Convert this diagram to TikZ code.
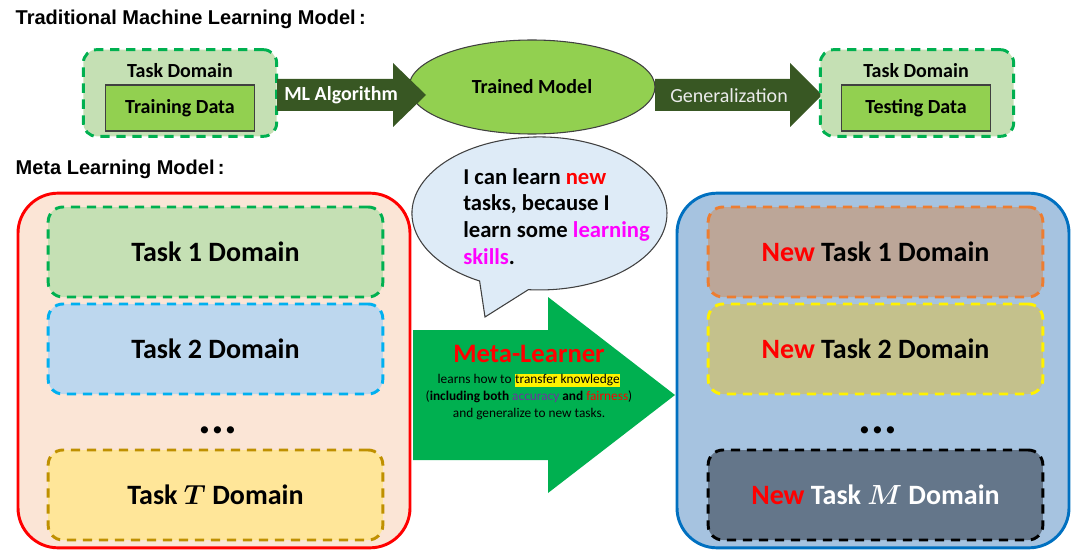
\documentclass[tikz,border=0pt]{standalone}
\usepackage{fontspec}
\usepackage{amsmath}
\setmainfont{Carlito}
\newfontfamily\arialfont{Liberation Sans}
\usetikzlibrary{calc,shapes.geometric}

\definecolor{leafgreen}{HTML}{C5E0B4}
\definecolor{taskgreen}{HTML}{00B050}
\definecolor{limegreen}{HTML}{92D050}
\definecolor{darkarrow}{HTML}{385723}
\definecolor{darkline}{HTML}{404040}
\definecolor{skyfill}{HTML}{BDD7EE}
\definecolor{skydash}{HTML}{00B0F0}
\definecolor{sandfill}{HTML}{FFE699}
\definecolor{sanddash}{HTML}{BF9000}
\definecolor{peach}{HTML}{FBE5D6}
\definecolor{steelfill}{HTML}{A6C3E0}
\definecolor{steelline}{HTML}{0070C0}
\definecolor{clayfill}{HTML}{BCA698}
\definecolor{claydash}{HTML}{ED7D31}
\definecolor{olivefill}{HTML}{C4C18C}
\definecolor{slatefill}{HTML}{64768A}
\definecolor{bubblefill}{HTML}{DEEBF7}
\definecolor{accpurple}{HTML}{7030A0}
\definecolor{skillpink}{HTML}{FF00FF}
\definecolor{hotred}{HTML}{FF0000}

\tikzset{
    heading/.style={anchor=west, font=\arialfont\bfseries\fontsize{15}{18}\selectfont},
    dombox/.style={draw, line width=2.2pt, dash pattern=on 7pt off 5pt, rounded corners=11pt,
        minimum width=251pt, minimum height=67.5pt,
        font=\fontsize{21}{25}\selectfont\bfseries},
    smalldom/.style={draw=taskgreen, fill=leafgreen, line width=2.2pt, dash pattern=on 7pt off 5pt,
        rounded corners=10pt, minimum width=145pt, minimum height=65pt},
    databox/.style={draw=darkline, fill=limegreen, line width=0.8pt,
        minimum width=112pt, minimum height=34.5pt, font=\fontsize{15}{18}\selectfont\bfseries},
    panel/.style={line width=2.2pt, rounded corners=30pt, minimum width=294pt, minimum height=266pt},
    dots/.style={font=\fontsize{36}{36}\selectfont\bfseries},
}

\begin{document}
\begin{tikzpicture}[x=0.75pt, y=-0.75pt]
    \useasboundingbox (0,0) rectangle (1080,556);

    % Traditional model
    \node[heading] (title1) at (11,19) {Traditional Machine Learning Model\,:};

    \node[smalldom] (domA) at (180,93) {};
    \node[font=\fontsize{15}{18}\selectfont\bfseries] (domAtext) at (180,71) {Task Domain};
    \node[databox] (train) at (180,108) {Training Data};

    \fill[darkarrow] (655,79) -- (790,79) -- (790,63) -- (822,95) -- (790,127) -- (790,111) -- (655,111) -- cycle;
    \node[font=\fontsize{15}{18}\selectfont, text=black!8] (gen) at (729,96) {Generalization};

    \node[ellipse, draw=darkline, line width=0.8pt, fill=limegreen, inner sep=0pt,
        minimum width=184.5pt, minimum height=70.5pt, font=\fontsize{15}{18}\selectfont\bfseries] (trained) at (532,87) {Trained Model};

    \fill[darkarrow] (277,79) -- (393,79) -- (393,63) -- (426,95) -- (393,127) -- (393,111) -- (277,111) -- cycle;
    \node[font=\fontsize{15}{18}\selectfont\bfseries, text=white] (mlalg) at (341,95) {ML Algorithm};

    \node[smalldom] (domB) at (917,93) {};
    \node[font=\fontsize{15}{18}\selectfont\bfseries] (domBtext) at (916,71) {Task Domain};
    \node[databox] (test) at (916,108) {Testing Data};

    % Meta learning model
    \node[heading] (title2) at (11,169) {Meta Learning Model\,:};

    \node[panel, draw=hotred, fill=peach] (metaL) at (214,370.5) {};
    \node[dombox, draw=taskgreen, fill=leafgreen] (task1) at (215.5,252) {Task 1 Domain};
    \node[dombox, draw=skydash, fill=skyfill] (task2) at (215.5,349) {Task $\mathbf{2}$ Domain};
    \node[dots] (dotsL) at (218,430) {...};
    \node[dombox, draw=sanddash, fill=sandfill] (taskT) at (215.5,495) {Task $\boldsymbol{T}$ Domain};

    \node[panel, draw=steelline, fill=steelfill] (metaR) at (873,370.5) {};
    \node[dombox, draw=claydash, fill=clayfill] (new1) at (875.5,252) {\textcolor{hotred}{New} Task 1 Domain};
    \node[dombox, draw=yellow, fill=olivefill] (new2) at (875.5,349) {\textcolor{hotred}{New} Task 2 Domain};
    \node[dots] (dotsR) at (878,430) {...};
    \node[dombox, draw=black, fill=slatefill, text=white] (newM) at (875.5,495) {\textcolor{hotred}{New} Task $\boldsymbol{M}$ Domain};

    % Big arrow
    \fill[taskgreen] (413,330) -- (548,330) -- (548,297) -- (675,395) -- (548,493) -- (548,460) -- (413,460) -- cycle;
    \node[font=\fontsize{20}{24}\selectfont\bfseries, text=hotred] (learner) at (529,354) {Meta-Learner};
    \node[align=center, font=\fontsize{10}{12.75}\selectfont] (learnertext) at (529,397)
        {learns how to {\setlength{\fboxsep}{0.5pt}\colorbox{yellow}{transfer knowledge}}\\
         (\textbf{including both} \textcolor{accpurple}{accuracy} \textbf{and} \textcolor{hotred}{fairness})\\
         and generalize to new tasks.};

    % Speech bubble
    \draw[draw=darkline, line width=0.8pt, fill=bubblefill]
        (479.6,281) arc[start angle=118, end angle=455, x radius=127.5, y radius=76.5] -- (485,317) -- cycle;
    \node[anchor=north west, align=left, inner sep=0pt, font=\fontsize{17}{20}\selectfont\bfseries] (speech) at (463,168)
        {I can learn \textcolor{hotred}{new}\\tasks, because I\\learn some \textcolor{skillpink}{learning}\\\textcolor{skillpink}{skills}.};
\end{tikzpicture}
\end{document}
